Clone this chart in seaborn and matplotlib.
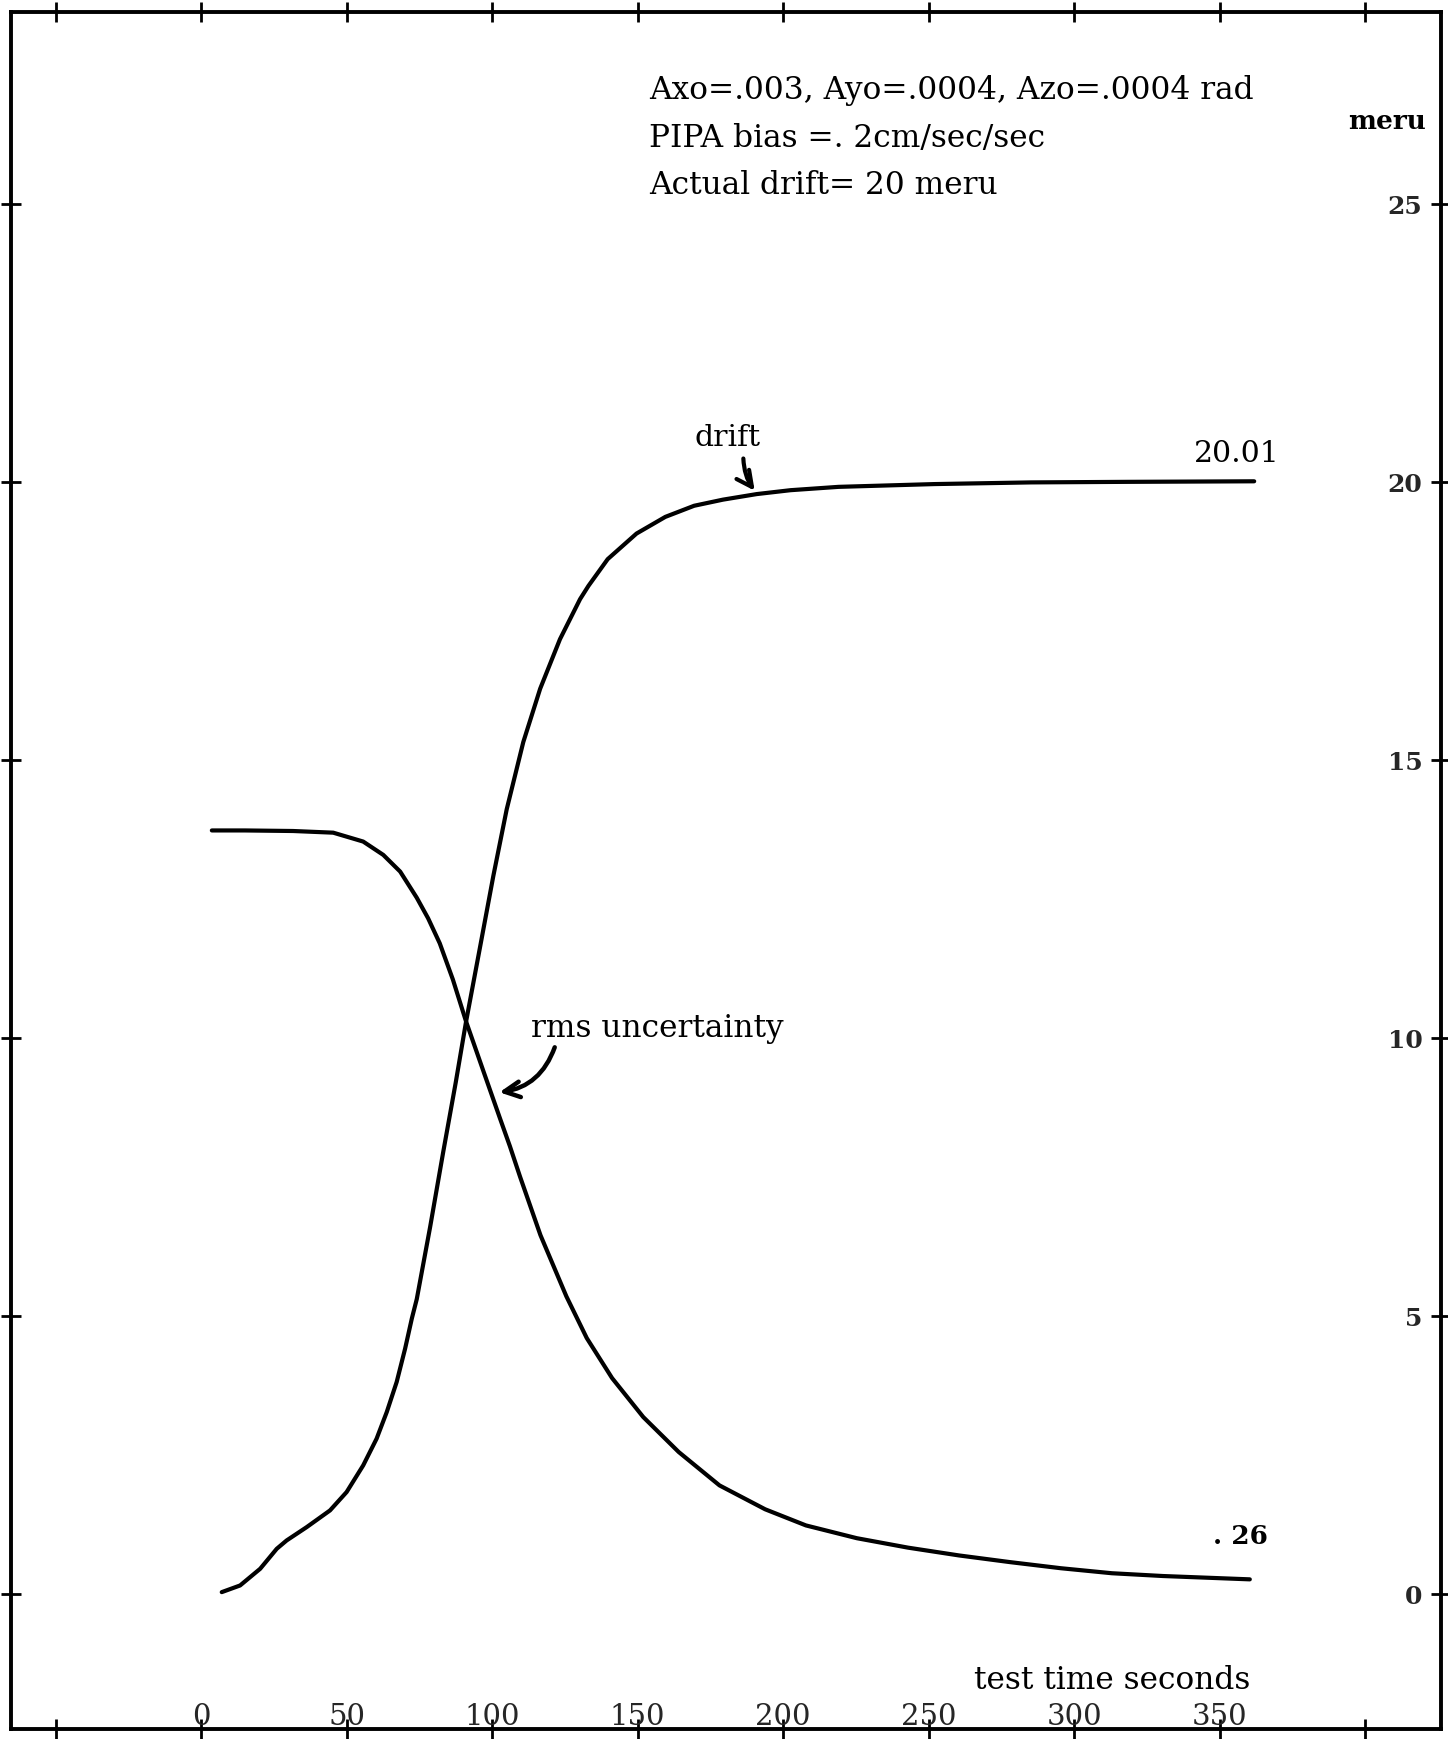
import numpy as np
import pandas as pd
import matplotlib
matplotlib.use("Agg")
import matplotlib.pyplot as plt
import seaborn as sns

# ---------------- data ----------------
drift_t = [7.1, 13.4, 20.3, 26.0, 29.4, 36.3, 44.3, 50.0, 55.7, 60.3, 63.8, 67.2,
           70.1, 72.4, 74.1, 78.7, 83.2, 87.5, 91.0, 95.8, 100.4, 105.0, 110.7,
           116.5, 123.3, 130.2, 133.1, 139.7, 149.6, 159.5, 169.4, 179.3, 190.9,
           202.5, 219.0, 252.0, 285.1, 318.1, 361.8]
drift_v = [0.03, 0.15, 0.45, 0.81, 0.96, 1.20, 1.50, 1.83, 2.31, 2.79, 3.27, 3.81,
           4.41, 4.95, 5.30, 6.60, 7.95, 9.20, 10.28, 11.62, 12.91, 14.11, 15.32,
           16.28, 17.17, 17.89, 18.13, 18.61, 19.07, 19.37, 19.57, 19.68, 19.78,
           19.85, 19.91, 19.96, 19.99, 20.00, 20.01]

rms_t = [3.7, 15.0, 31.6, 45.4, 55.7, 62.6, 68.4, 74.1, 78.0, 82.0, 86.5, 91.0,
         97.0, 102.7, 106.1, 109.6, 116.6, 125.5, 132.5, 141.2, 151.9, 164.1,
         178.1, 193.8, 207.8, 225.3, 242.9, 260.4, 277.9, 295.4, 312.9, 330.4, 360.3]
rms_v = [13.73, 13.73, 13.72, 13.69, 13.53, 13.29, 12.99, 12.52, 12.15, 11.70,
         11.05, 10.30, 9.40, 8.55, 8.05, 7.50, 6.45, 5.35, 4.60, 3.88, 3.18, 2.55,
         1.95, 1.52, 1.23, 1.00, 0.83, 0.69, 0.57, 0.46, 0.37, 0.32, 0.26]

x_ticks = [-50, 0, 50, 100, 150, 200, 250, 300, 350, 400]
x_tick_labels = ["", "0", "50", "100", "150", "200", "250", "300", "350", ""]
y_ticks = [0, 5, 10, 15, 20, 25]
y_tick_labels = ["0", "5", "10", "15", "20", "25"]

info_lines = ["Axo=.003, Ayo=.0004, Azo=.0004 rad",
              "PIPA bias =. 2cm/sec/sec",
              "Actual drift= 20 meru"]
x_title = "test time seconds"
y_unit = "meru"
drift_label = "drift"
rms_label = "rms uncertainty"
drift_end_label = "20.01"
rms_end_label = ". 26"

# ---------------- style ----------------
sns.set_theme(style="white")
plt.rcParams["font.family"] = ["DejaVu Serif", "DejaVu Sans"]
plt.rcParams["text.color"] = "black"

fig = plt.figure(figsize=(14.48, 17.40), dpi=100)
ax = fig.add_axes([0.0076, 0.0058, 0.9876, 0.9867])

df_drift = pd.DataFrame({"t": drift_t, "v": drift_v})
df_rms = pd.DataFrame({"t": rms_t, "v": rms_v})
sns.lineplot(data=df_drift, x="t", y="v", ax=ax, color="black", lw=3.0,
             estimator=None, sort=False)
sns.lineplot(data=df_rms, x="t", y="v", ax=ax, color="black", lw=3.0,
             estimator=None, sort=False)

ax.set_xlim(-65.3, 426.0)
ax.set_ylim(-2.43, 28.45)
ax.set_xlabel("")
ax.set_ylabel("")

for s in ax.spines.values():
    s.set_visible(True)
    s.set_color("black")
    s.set_linewidth(2.8)

ax.set_xticks(x_ticks)
ax.set_xticklabels(x_tick_labels)
ax.set_yticks(y_ticks)
ax.set_yticklabels(y_tick_labels)

ax.tick_params(axis="x", which="both", bottom=True, top=True, direction="inout",
               length=15, width=2.0, color="black", labelbottom=True, labeltop=False,
               labelsize=21, pad=-11)
ax.tick_params(axis="y", which="both", left=True, right=True, direction="inout",
               length=15, width=2.0, color="black", labelleft=False, labelright=True,
               labelsize=18, pad=-21)
for lbl in ax.get_xticklabels():
    lbl.set_va("baseline")
for lbl in ax.get_yticklabels():
    lbl.set_ha("right")
    lbl.set_fontweight("bold")

# ---------------- text ----------------
info_y = [27.06, 26.19, 25.35]
for line, yy in zip(info_lines, info_y):
    ax.text(153.9, yy, line, fontsize=22.5, ha="left", va="center")

ax.text(360.4, -1.55, x_title, fontsize=22.5, ha="right", va="center")
ax.text(407.4, 26.5, y_unit, fontsize=19, ha="center", va="center", fontweight="bold")

ax.text(355.9, 20.52, drift_end_label, fontsize=21.5, ha="center", va="center")
ax.text(357.1, 1.04, rms_end_label, fontsize=19, ha="center", va="center",
        fontweight="bold")

ax.text(181.0, 20.8, drift_label, fontsize=21.5, ha="center", va="center")
ax.annotate("", xy=(190.2, 19.84), xytext=(186.3, 20.42),
            arrowprops=dict(arrowstyle="->", lw=3, color="black", mutation_scale=28,
                            connectionstyle="arc3,rad=0.15", shrinkA=0, shrinkB=0))

ax.text(156.6, 10.18, rms_label, fontsize=22.5, ha="center", va="center")
ax.annotate("", xy=(102.5, 9.02), xytext=(121.5, 9.83),
            arrowprops=dict(arrowstyle="->", lw=3.2, color="black", mutation_scale=28,
                            connectionstyle="arc3,rad=-0.3", shrinkA=0, shrinkB=0))

fig.savefig("out.png", dpi=100, facecolor="white")
